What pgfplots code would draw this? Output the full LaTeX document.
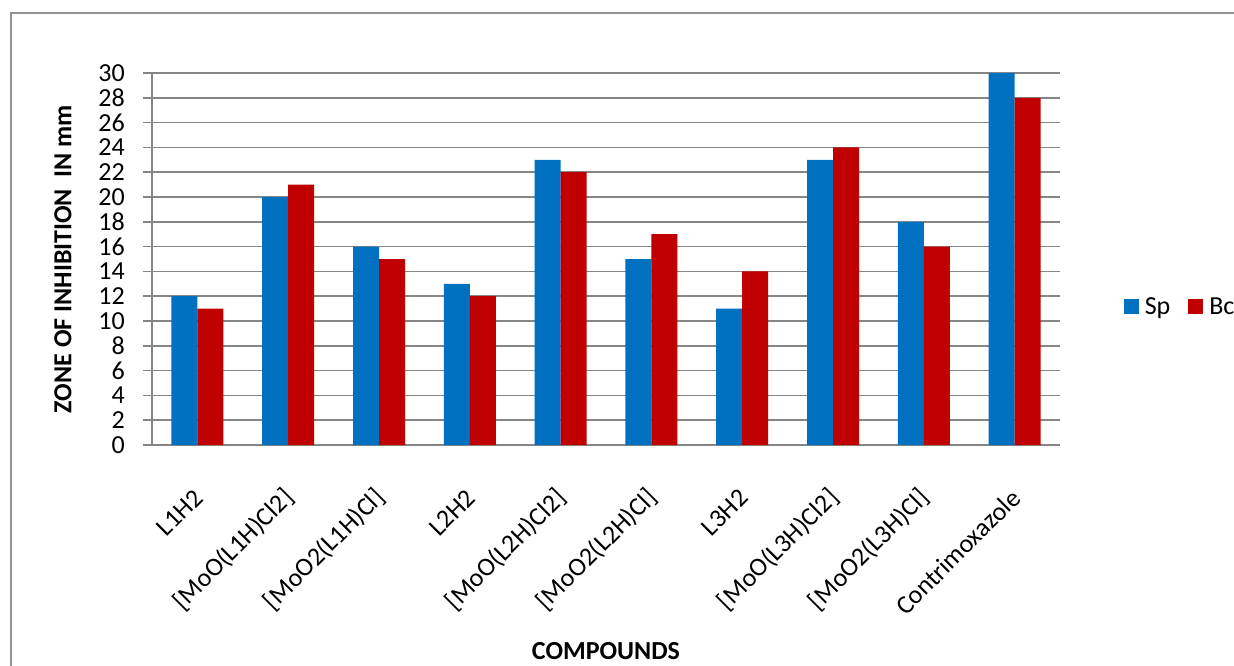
\documentclass[border=0pt]{standalone}
\usepackage{fontspec}
\setmainfont{Carlito}
\usepackage{pgfplots}
\pgfplotsset{compat=1.18}
\definecolor{spblue}{HTML}{0070C0}
\definecolor{bcred}{HTML}{C00000}
\definecolor{gridgray}{HTML}{868686}

\begin{document}
\begin{tikzpicture}[font=\fontsize{26bp}{31bp}\selectfont]
\path[use as bounding box, clip] (0,0) rectangle (1234bp,-666bp);
% chart area border
\draw[gridgray!90, line width=2bp] (11bp,-13bp) rectangle (1300bp,-720bp);
\begin{axis}[
  at={(152bp,-445bp)}, anchor=south west,
  width=908bp, height=372bp, scale only axis,
  ymin=0, ymax=30, ytick={0,2,...,30},
  xmin=-0.5, xmax=9.5, xtick={0,...,9},
  xticklabels={L1H2,{[MoO(L1H)Cl2]},{[MoO2(L1H)Cl]},L2H2,{[MoO(L2H)Cl2]},{[MoO2(L2H)Cl]},L3H2,{[MoO(L3H)Cl2]},{[MoO2(L3H)Cl]},Contrimoxazole},
  ybar=0pt, bar width=26bp,
  axis x line*=bottom, axis y line*=left,
  axis line style={gridgray, line width=1.5bp},
  ymajorgrids, grid style={gridgray, line width=1.5bp},
  major tick length=9bp, tick align=outside,
  ytick style={gridgray, line width=1.5bp},
  xtick style={draw=none},
  /pgf/number format/assume math mode=true,
  tick label style={font=\fontsize{26bp}{31bp}\selectfont},
  yticklabel style={anchor=east, inner sep=0pt, xshift=-18bp},
  xticklabel style={rotate=45, anchor=east, inner sep=0pt, xshift=2bp},
  xticklabel shift=41bp,
  ylabel={\textbf{ZONE OF INHIBITION\ \ IN mm}},
  ylabel style={at={(axis description cs:-0.098,0.5)}, anchor=center},
  xlabel={\textbf{COMPOUNDS}},
  xlabel style={at={(axis description cs:0.5,-0.554)}, anchor=center},
  legend columns=2,
  legend style={at={(axis description cs:1.0667,0.371)}, anchor=west, draw=none, fill=none,
    font=\fontsize{26bp}{31bp}\selectfont,
    /tikz/every odd column/.append style={column sep=4bp},
    /tikz/every even column/.append style={column sep=16bp}},
  legend image code/.code={\fill[#1] (0bp,-7.5bp) rectangle (15bp,7.5bp);},
]
\addplot[fill=spblue, draw=none] coordinates {
  (0,12) (1,20) (2,16) (3,13) (4,23) (5,15) (6,11) (7,23) (8,18) (9,30)};
\addplot[fill=bcred, draw=none] coordinates {
  (0,11) (1,21) (2,15) (3,12) (4,22) (5,17) (6,14) (7,24) (8,16) (9,28)};
\legend{Sp,Bc}
\end{axis}
\end{tikzpicture}
\end{document}
